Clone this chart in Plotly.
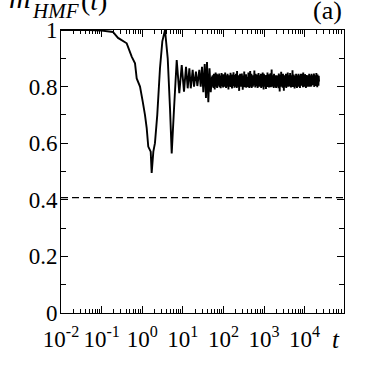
import numpy as np
import plotly.graph_objects as go

# early relaxation of m_HMF(t)
t_early = [0.01, 0.05, 0.1, 0.19, 0.254, 0.415, 0.551, 0.665, 0.732, 0.883, 1.03, 1.17, 1.29,
           1.41, 1.62, 1.71, 1.88, 2.06, 2.35, 2.74, 3.13, 3.64, 4.25, 4.84, 5.33, 6.07,
           7.08, 8.20, 9.40, 10.7, 12.0, 13.2, 14.5, 15.7, 17.5, 18.9, 21.1, 22.8, 25.5, 27.6,
           29.7, 32.0, 34.6, 37.2, 39.4, 42.5, 45.5, 48.7]
m_early = [1.0, 1.0, 0.998, 0.993, 0.972, 0.953, 0.906, 0.882, 0.829, 0.80, 0.747, 0.70, 0.653,
           0.588, 0.57, 0.495, 0.57, 0.60, 0.70, 0.865, 0.96, 1.0, 0.90, 0.723, 0.564, 0.72,
           0.894, 0.777, 0.876, 0.782, 0.87, 0.794, 0.865, 0.794, 0.859, 0.80, 0.853, 0.802, 0.859, 0.80,
           0.87, 0.78, 0.88, 0.76, 0.887, 0.745, 0.865, 0.78]

# quasi-stationary fluctuations (log-spaced samples from t ~ 52 to t ~ 2.3e4)
log_t_noise_start = 1.72
log_t_noise_end = 4.355
m_noise = [
    0.835, 0.800, 0.840, 0.805, 0.830, 0.795, 0.845, 0.810, 0.825, 0.790, 0.840, 0.805, 0.850, 0.800, 0.830, 0.810, 0.845, 0.795, 0.835, 0.805,
    0.842, 0.803, 0.828, 0.812, 0.846, 0.798, 0.833, 0.807, 0.839, 0.794, 0.826, 0.815, 0.848, 0.801, 0.836, 0.809, 0.829, 0.797, 0.844, 0.806,
    0.840, 0.815, 0.830, 0.800, 0.850, 0.805, 0.825, 0.795, 0.840, 0.810, 0.835, 0.800, 0.845, 0.815, 0.830, 0.790, 0.840, 0.805, 0.825, 0.800,
    0.831, 0.812, 0.849, 0.799, 0.838, 0.804, 0.827, 0.793, 0.843, 0.811, 0.834, 0.802, 0.851, 0.808, 0.829, 0.796, 0.841, 0.813, 0.835, 0.800,
    0.845, 0.810, 0.830, 0.795, 0.855, 0.805, 0.835, 0.800, 0.840, 0.815, 0.825, 0.785, 0.835, 0.805, 0.845, 0.800, 0.830, 0.810, 0.840, 0.800,
    0.846, 0.806, 0.832, 0.789, 0.839, 0.810, 0.828, 0.803, 0.853, 0.798, 0.837, 0.811, 0.830, 0.805, 0.844, 0.796, 0.833, 0.808, 0.826, 0.799,
    0.835, 0.805, 0.850, 0.810, 0.830, 0.795, 0.840, 0.805, 0.855, 0.800, 0.830, 0.810, 0.845, 0.795, 0.835, 0.805, 0.840, 0.800, 0.830, 0.815,
    0.840, 0.812, 0.857, 0.804, 0.834, 0.797, 0.845, 0.809, 0.829, 0.801, 0.838, 0.814, 0.843, 0.795, 0.831, 0.806, 0.848, 0.800, 0.836, 0.811,
    0.840, 0.800, 0.835, 0.810, 0.845, 0.795, 0.830, 0.805, 0.840, 0.800, 0.850, 0.810, 0.835, 0.790, 0.845, 0.805, 0.830, 0.800, 0.840, 0.810,
    0.828, 0.792, 0.841, 0.807, 0.835, 0.799, 0.850, 0.813, 0.832, 0.803, 0.844, 0.797, 0.837, 0.810, 0.826, 0.804, 0.847, 0.798, 0.833, 0.812,
    0.860, 0.805, 0.835, 0.800, 0.840, 0.810, 0.830, 0.795, 0.845, 0.805, 0.835, 0.800, 0.840, 0.810, 0.825, 0.795, 0.840, 0.805, 0.835, 0.800,
    0.839, 0.806, 0.830, 0.794, 0.846, 0.809, 0.835, 0.783, 0.842, 0.805, 0.829, 0.811, 0.852, 0.800, 0.837, 0.807, 0.831, 0.796, 0.845, 0.813,
    0.830, 0.785, 0.835, 0.805, 0.840, 0.800, 0.830, 0.810, 0.845, 0.795, 0.835, 0.805, 0.840, 0.800, 0.850, 0.810, 0.830, 0.800, 0.840, 0.805,
    0.834, 0.801, 0.848, 0.808, 0.827, 0.797, 0.840, 0.812, 0.836, 0.804, 0.858, 0.799, 0.832, 0.810, 0.843, 0.805, 0.829, 0.793, 0.838, 0.809,
    0.835, 0.800, 0.845, 0.810, 0.830, 0.795, 0.840, 0.805, 0.835, 0.810, 0.845, 0.800, 0.830, 0.805, 0.840, 0.795, 0.835, 0.810, 0.845, 0.805,
    0.845, 0.803, 0.831, 0.811, 0.839, 0.798, 0.850, 0.806, 0.833, 0.812, 0.828, 0.800, 0.844, 0.807, 0.836, 0.795, 0.841, 0.810, 0.830, 0.804,
    0.830, 0.800, 0.840, 0.810, 0.835, 0.805, 0.845, 0.800, 0.830, 0.810, 0.840, 0.805, 0.835, 0.800, 0.845, 0.810, 0.830, 0.805, 0.840, 0.812,
    0.837, 0.808, 0.846, 0.799, 0.832, 0.813, 0.840, 0.802, 0.835, 0.806, 0.848, 0.811, 0.829, 0.798, 0.843, 0.807, 0.834, 0.803, 0.838, 0.818,
]
t_noise = list(np.logspace(log_t_noise_start, log_t_noise_end, len(m_noise)))

# reference level (dashed)
m_ref = 0.408

x_tickvals = [1e-2, 1e-1, 1e0, 1e1, 1e2, 1e3, 1e4]
x_ticktext = ["10<sup>-2</sup>", "10<sup>-1</sup>", "10<sup>0</sup>", "10<sup>1</sup>",
              "10<sup>2</sup>", "10<sup>3</sup>", "10<sup>4</sup>"]
x_minor = [k * 10.0**d for d in range(-2, 5) for k in range(2, 10)]

FONT = "Liberation Serif"
tick_font = dict(family=FONT, size=23, color="black")

fig = go.Figure()
fig.add_trace(go.Scatter(x=t_early + t_noise, y=m_early + m_noise, mode="lines",
                         line=dict(color="black", width=1.9, simplify=False), showlegend=False))
fig.add_trace(go.Scatter(x=[1e-2, 1e5], y=[m_ref, m_ref], mode="lines",
                         line=dict(color="black", width=1.3, dash="7px,4px"), showlegend=False))

fig.update_layout(
    width=374, height=374,
    margin=dict(l=61, r=30, t=30, b=61),
    paper_bgcolor="white", plot_bgcolor="white",
    font=dict(family=FONT, size=23, color="black"),
    xaxis=dict(type="log", range=[-2, 4.97], showgrid=False, zeroline=False, automargin=False,
               showline=True, linecolor="black", linewidth=1, mirror="ticks",
               ticks="inside", ticklen=7, tickcolor="black", tickfont=tick_font,
               ticklabelstandoff=5,
               tickmode="array", tickvals=x_tickvals, ticktext=x_ticktext,
               minor=dict(tickmode="array", tickvals=x_minor, ticks="inside", ticklen=4,
                          tickcolor="black", showgrid=False)),
    yaxis=dict(range=[0, 1], showgrid=False, zeroline=False, automargin=False,
               showline=True, linecolor="black", linewidth=1, mirror="ticks",
               ticks="inside", ticklen=7, tickcolor="black", dtick=0.2, tickfont=tick_font,
               ticklabelstandoff=-2,
               minor=dict(dtick=0.1, ticks="inside", ticklen=5, tickcolor="black", showgrid=False)),
)

# y-axis label m_HMF(t), drawn in pieces so the subscript sits low like the original
fig.add_annotation(x=-0.19, y=1.05, xref="paper", yref="paper", xanchor="left", yanchor="bottom",
                   text="<i>m</i>", showarrow=False, font=dict(family=FONT, size=30))
fig.add_annotation(x=-0.111, y=1.017, xref="paper", yref="paper", xanchor="left", yanchor="bottom",
                   text="<i>HMF</i>", showarrow=False, font=dict(family=FONT, size=21))
fig.add_annotation(x=0.062, y=1.042, xref="paper", yref="paper", xanchor="left", yanchor="bottom",
                   text="(<i>t</i>)", showarrow=False, font=dict(family=FONT, size=28))
fig.add_annotation(x=0.94, y=1.07, xref="paper", yref="paper", xanchor="center", yanchor="middle",
                   text="(a)", showarrow=False, font=dict(family=FONT, size=26))
fig.add_annotation(x=0.972, y=-0.095, xref="paper", yref="paper", xanchor="center", yanchor="middle",
                   text="<i>t</i>", showarrow=False, font=dict(family=FONT, size=25))

fig.write_html("out.html", config={"displayModeBar": False},
               post_script="document.body.style.margin='0';")
